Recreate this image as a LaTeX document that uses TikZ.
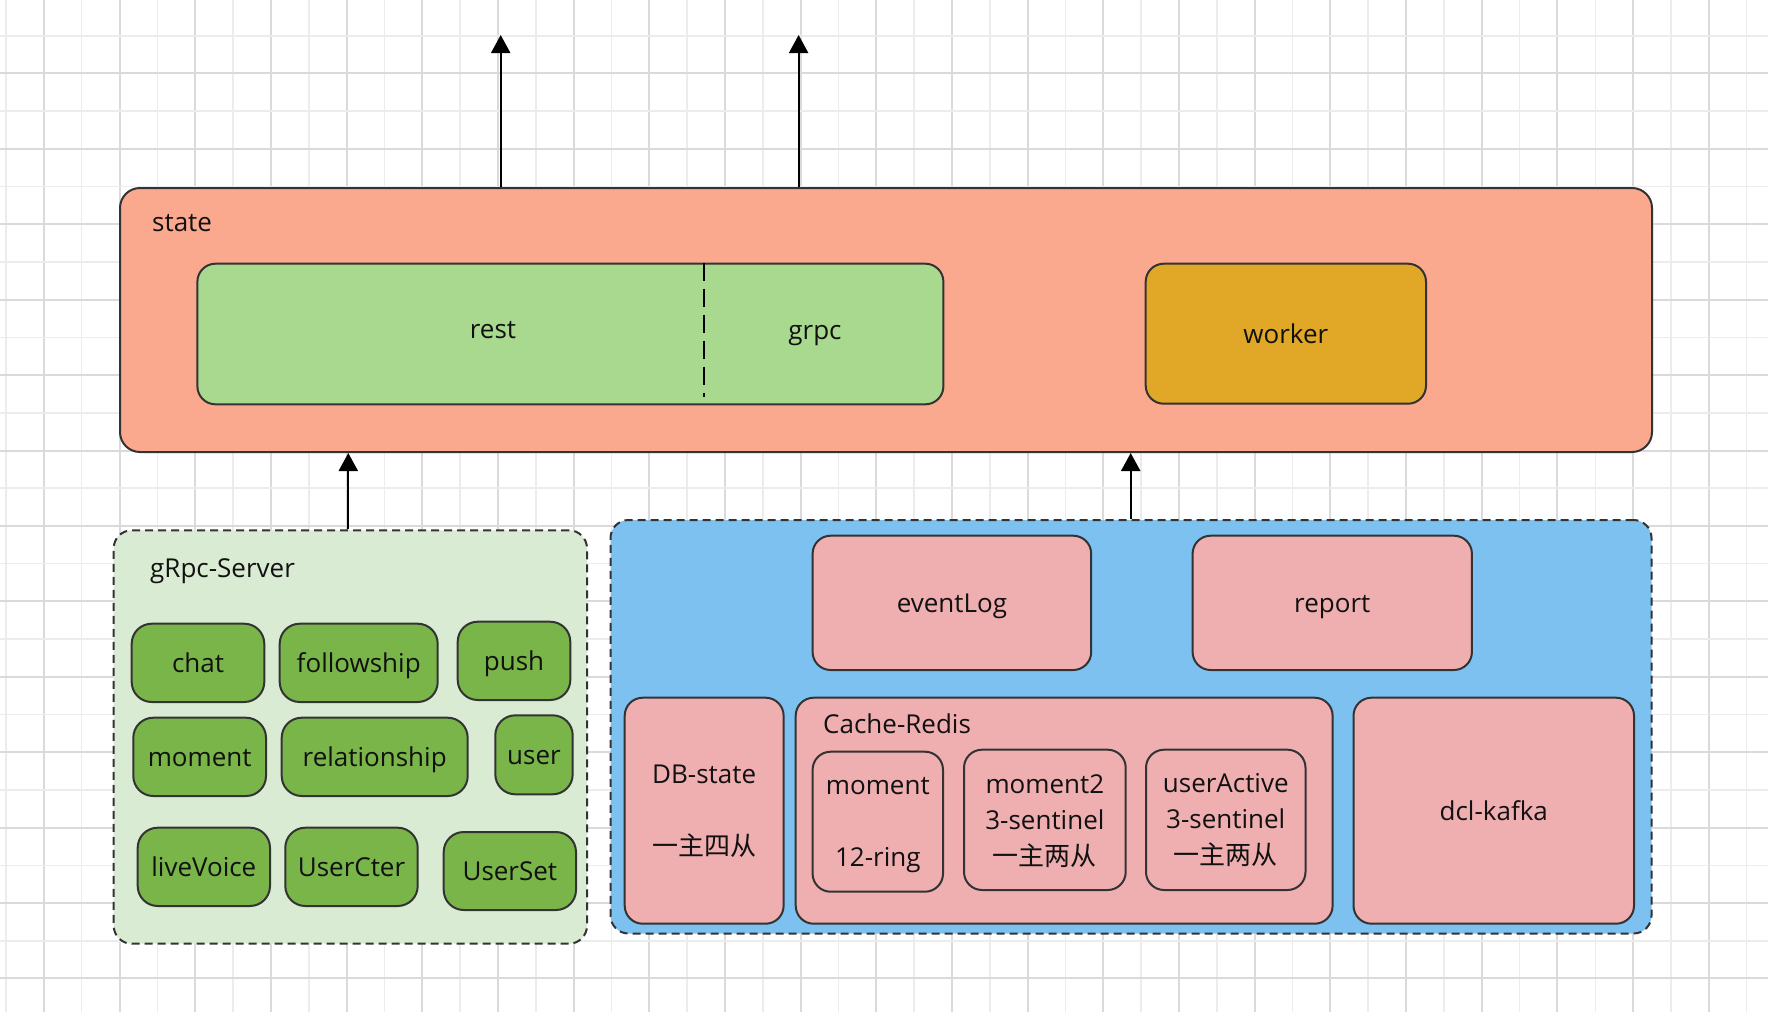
\documentclass[tikz,border=0pt]{standalone}
\usepackage{fontspec}
\setmainfont{Open Sans}
\newfontfamily\cjk{Noto Sans CJK SC}
\usetikzlibrary{arrows.meta}
\definecolor{gridA}{HTML}{DADADA}
\definecolor{gridB}{HTML}{ECECEC}
\definecolor{strokec}{HTML}{333333}
\definecolor{textc}{HTML}{111111}
\definecolor{statec}{HTML}{FBA98E}
\definecolor{restc}{HTML}{A9D98F}
\definecolor{workerc}{HTML}{E0A826}
\definecolor{grpcbg}{HTML}{DAEBD3}
\definecolor{svcgreen}{HTML}{79B548}
\definecolor{bluec}{HTML}{7DC1F1}
\definecolor{pinkc}{HTML}{EFAEB0}
\newcommand{\nodepth}[1]{\raisebox{0pt}[\height][0pt]{#1}}
\tikzset{
  box/.style={draw=strokec, line width=2pt, rounded corners=18pt, inner sep=0pt,
    anchor=north west, text=textc, align=center,
    font=\fontsize{26}{36}\selectfont},
  oneline/.style={text height=19pt, text depth=0pt},
  container/.style={box, dash pattern=on 8pt off 5pt},
  svc/.style={box, oneline, fill=svcgreen, rounded corners=20pt},
  pinkbox/.style={box, fill=pinkc},
  lbl/.style={inner sep=0pt, text=textc, font=\fontsize{26}{36}\selectfont},
  arr/.style={line width=2.2pt, -{Triangle[length=18pt,width=19pt]}},
  divider/.style={line width=2pt, draw=black, dash pattern=on 18pt off 8pt},
}
\begin{document}
\begin{tikzpicture}[x=1pt,y=-1pt]
\useasboundingbox[fill=white] (0,0) rectangle (1768,1012);
% grid
\foreach \n in {0,...,46} {
  \ifodd\n
    \draw[gridA, line width=2pt] ({6+37.84*\n},0) -- ({6+37.84*\n},1012);
  \else
    \draw[gridB, line width=1.6pt] ({6+37.84*\n},0) -- ({6+37.84*\n},1012);
  \fi
}
\foreach \m in {0,...,27} {
  \ifodd\m
    \draw[gridB, line width=1.6pt] (0,{-2+37.71*\m}) -- (1768,{-2+37.71*\m});
  \else
    \draw[gridA, line width=2pt] (0,{-2+37.71*\m}) -- (1768,{-2+37.71*\m});
  \fi
}

% state container
\node[box, fill=statec, rounded corners=20pt, minimum width=1532pt, minimum height=264pt] (state) at (119,187) {};
\node[lbl, anchor=west] (statelbl) at (152,223) {state};
\node[box, fill=restc, minimum width=746pt, minimum height=140.6pt] (restgrpc) at (196.4,262.7) {};
\draw[divider] (restgrpc.north west) ++(508,0) -- ++(0,134);
\node[lbl] (rest) at (493,330) {rest};
\node[lbl] (grpc) at (815,335.5) {grpc};
\node[box, oneline, fill=workerc, minimum width=280.3pt, minimum height=140pt] (worker) at (1144.7,262.7) {worker};

% gRpc-Server container
\node[container, fill=grpcbg, minimum width=473.3pt, minimum height=413.4pt] (grpcsrv) at (112.7,529.3) {};
\node[lbl, anchor=west] (grpcsrvlbl) at (150,571) {gRpc-Server};
\node[svc, minimum width=132.6pt, minimum height=78.3pt] (chat) at (130.7,622.7) {chat};
\node[svc, minimum width=158pt, minimum height=78.3pt] (followship) at (278.7,622.7) {followship};
\node[svc, minimum width=112.6pt, minimum height=78.3pt] (push) at (456.7,620.7) {push};
\node[svc, minimum width=132.7pt, minimum height=78.3pt] (moment) at (132.3,716.7) {moment};
\node[svc, minimum width=186pt, minimum height=78.3pt] (relationship) at (280.7,716.7) {relationship};
\node[svc, minimum width=77.4pt, minimum height=79pt] (user) at (494.3,714.3) {user};
\node[svc, minimum width=132.3pt, minimum height=78.3pt] (liveVoice) at (136.7,826.7) {liveVoice};
\node[svc, minimum width=132.4pt, minimum height=78.3pt] (UserCter) at (284.3,826.7) {UserCter};
\node[svc, minimum width=132.3pt, minimum height=78pt] (UserSet) at (442.7,831) {UserSet};

% storage container
\node[container, fill=bluec, minimum width=1041pt, minimum height=413.5pt] (store) at (609.5,519) {};
\node[pinkbox, oneline, minimum width=278.6pt, minimum height=134.3pt] (eventLog) at (811.6,534.7) {eventLog};
\node[pinkbox, oneline, minimum width=279.3pt, minimum height=134.3pt] (report) at (1191.6,534.7) {report};
\node[pinkbox, minimum width=158.9pt, minimum height=226pt] (dbstate) at (623.7,696.7) {DB-state\\[36pt]\nodepth{\cjk 一主四从}};
\node[pinkbox, minimum width=536.9pt, minimum height=226pt] (cache) at (794.7,696.7) {};
\node[lbl, anchor=west] (cachelbl) at (823,724) {Cache-Redis};
\node[pinkbox, minimum width=130.4pt, minimum height=140pt] (rmoment) at (811.6,750.7) {moment\\[36pt]\nodepth{12-ring}};
\node[pinkbox, minimum width=161.7pt, minimum height=140.3pt] (rmoment2) at (963,748.7) {moment2\\3-sentinel\\\nodepth{\cjk 一主两从}};
\node[pinkbox, minimum width=159.5pt, minimum height=140.3pt] (ruser) at (1145,748.7) {userActive\\3-sentinel\\{\cjk 一主两从}};
\node[pinkbox, oneline, minimum width=280.5pt, minimum height=226pt] (kafka) at (1352.5,696.7) {dcl-kafka};

% connectors
\coordinate (top1) at (500.7,35);
\coordinate (top2) at (798.6,35);
\coordinate (lowL) at (348.3,0);
\coordinate (lowR) at (1130.7,0);
\draw[arr] (state.north -| top1) -- (top1);
\draw[arr] (state.north -| top2) -- (top2);
\draw[arr] (grpcsrv.north -| lowL) -- (state.south -| lowL);
\draw[arr] (store.north -| lowR) -- (state.south -| lowR);
\end{tikzpicture}
\end{document}
